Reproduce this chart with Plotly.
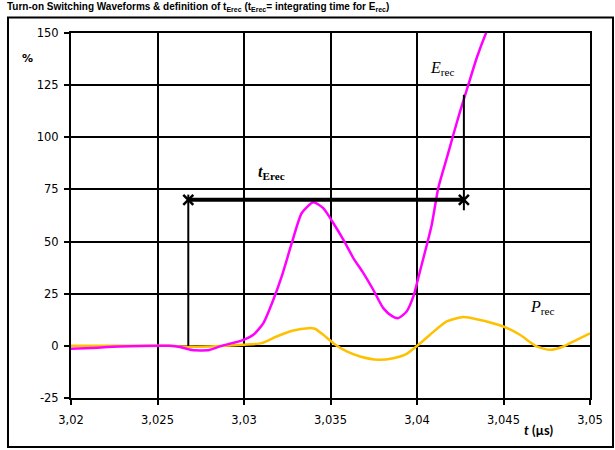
import plotly.graph_objects as go

# ---------------- data ----------------
t_erec = [3.0200, 3.0212, 3.0228, 3.0257, 3.0263, 3.0270, 3.0280, 3.0287, 3.02985,
          3.03054, 3.03112, 3.03169, 3.03218, 3.03276, 3.03334, 3.03401, 3.03458,
          3.03516, 3.03574, 3.03632, 3.03690, 3.03747, 3.03805, 3.03854, 3.03892,
          3.03940, 3.03979, 3.04017, 3.04085, 3.04123, 3.04172, 3.04210, 3.04249,
          3.04297, 3.04345, 3.04403, 3.04420]
v_erec = [-1.4, -1.0, -0.3, 0.0, -0.5, -2.0, -2.0, 0.0, 2.5,
          5.3, 10.9, 22.0, 33.3, 49.2, 63.7, 68.8, 66.0,
          58.9, 50.9, 42.1, 34.9, 26.9, 18.1, 14.4, 13.3,
          16.5, 23.7, 35.7, 58.0, 75.7, 90.0, 101.2, 112.4,
          125.2, 138.0, 150.8, 154.0]

t_prec = [3.0200, 3.0257, 3.0265, 3.0280, 3.02994, 3.03102, 3.03189, 3.03285,
          3.03372, 3.03410, 3.03458, 3.03516, 3.03594, 3.03671, 3.03776, 3.03863,
          3.03940, 3.04008, 3.04075, 3.04172, 3.04268, 3.04345, 3.04499, 3.04595,
          3.04692, 3.04769, 3.04846, 3.04923, 3.0500]
v_prec = [0.0, 0.0, -0.3, -0.3, 0.5, 1.3, 4.5, 7.4,
          8.5, 8.2, 5.3, 1.3, -2.7, -5.1, -6.7, -5.9,
          -3.8, 0.5, 5.3, 11.7, 13.8, 12.8, 9.3, 5.3,
          -0.3, -1.9, -0.3, 2.9, 6.0]

# t_Erec interval definition
t_int = [3.02678, 3.04271]
level_int = 70
left_vert = [0, 72.5]
right_vert = [65, 120.4]

x_ticks = [3.02, 3.025, 3.03, 3.035, 3.04, 3.045, 3.05]
x_ticktext = ["3,02", "3,025", "3,03", "3,035", "3,04", "3,045", "3,05"]
y_ticks = [-25, 0, 25, 50, 75, 100, 125, 150]
y_ticktext = ["-25", "0", "25", "50", "75", "100", "125", "150"]

MAGENTA = "#FF00FF"
GOLD = "#FFC000"

fig = go.Figure()

fig.add_trace(go.Scatter(x=t_prec, y=v_prec, mode="lines",
                         line=dict(color=GOLD, width=2.5, shape="spline", smoothing=0.6),
                         hoverinfo="skip"))
fig.add_trace(go.Scatter(x=t_erec, y=v_erec, mode="lines",
                         line=dict(color=MAGENTA, width=2.5, shape="spline", smoothing=0.6),
                         hoverinfo="skip"))

# vertical marker lines
fig.add_trace(go.Scatter(x=[t_int[0], t_int[0]], y=left_vert, mode="lines",
                         line=dict(color="black", width=2), hoverinfo="skip"))
fig.add_trace(go.Scatter(x=[t_int[1], t_int[1]], y=right_vert, mode="lines",
                         line=dict(color="black", width=2), hoverinfo="skip"))
# horizontal interval line with x markers
fig.add_trace(go.Scatter(x=t_int, y=[level_int, level_int], mode="lines+markers",
                         line=dict(color="black", width=4),
                         marker=dict(symbol="x-thin", size=10,
                                     line=dict(color="black", width=2.5)),
                         hoverinfo="skip"))

serif = "Liberation Serif, DejaVu Serif, serif"
fig.add_annotation(x=3.03159, y=83, text="<b><i>t</i><sub>Erec</sub></b>",
                   showarrow=False, font=dict(family=serif, size=16, color="black"))
fig.add_annotation(x=3.04142, y=133, text="<i>E</i><sub>rec</sub>",
                   showarrow=False, font=dict(family=serif, size=16, color="black"))
fig.add_annotation(x=3.04720, y=18.5, text="<i>P</i><sub>rec</sub>",
                   showarrow=False, font=dict(family=serif, size=16, color="black"))

fig.add_annotation(xref="paper", yref="paper", x=-0.0838, y=0.9315, text="<b>%</b>",
                   xanchor="center", yanchor="middle",
                   showarrow=False, font=dict(family="DejaVu Sans", size=11, color="black"))
fig.add_annotation(xref="paper", yref="paper", x=0.902, y=-0.087,
                   xanchor="center", yanchor="middle",
                   text="<b><i>t</i> (µs)</b>", showarrow=False,
                   font=dict(family="Lato, Open Sans, sans-serif", size=13, color="black"))

# Title
fig.add_annotation(xref="paper", yref="paper", x=-0.128, y=1.072, xanchor="left", yanchor="middle",
                   text="<b>Turn-on Switching Waveforms &amp; definition of t<sub>Erec</sub> "
                        "(t<sub>Erec</sub>= integrating time for E<sub>rec</sub>)</b>",
                   showarrow=False,
                   font=dict(family="Liberation Sans, Arial, sans-serif", size=10, color="black"))

# outer frame
fig.add_shape(type="rect", xref="paper", yref="paper",
              x0=-0.1214, x1=1.0443, y0=-0.1342, y1=1.0425,
              line=dict(color="black", width=2), fillcolor="rgba(0,0,0,0)")

axis_font = dict(family="DejaVu Sans, Verdana, sans-serif", size=11.5, color="black")
fig.update_xaxes(range=[3.02, 3.05], tickvals=x_ticks, ticktext=x_ticktext,
                 showgrid=True, gridcolor="black", gridwidth=2,
                 showline=True, linecolor="black", linewidth=2, mirror=True,
                 ticks="outside", ticklen=5, tickwidth=2, tickcolor="black",
                 ticklabelstandoff=5,
                 tickfont=axis_font, zeroline=False)
fig.update_yaxes(range=[-25, 150], tickvals=y_ticks, ticktext=y_ticktext,
                 showgrid=True, gridcolor="black", gridwidth=2,
                 showline=True, linecolor="black", linewidth=2, mirror=True,
                 ticks="outside", ticklen=5, tickwidth=2, tickcolor="black",
                 ticklabelstandoff=3,
                 tickfont=axis_font, zeroline=True, zerolinecolor="black", zerolinewidth=2)

fig.update_layout(width=615, height=450, margin=dict(l=71, r=25, t=33, b=52, autoexpand=False),
                  plot_bgcolor="white", paper_bgcolor="white", showlegend=False)

fig.write_html("out.html", config={"displayModeBar": False},
               post_script="document.body.style.margin='0';")
